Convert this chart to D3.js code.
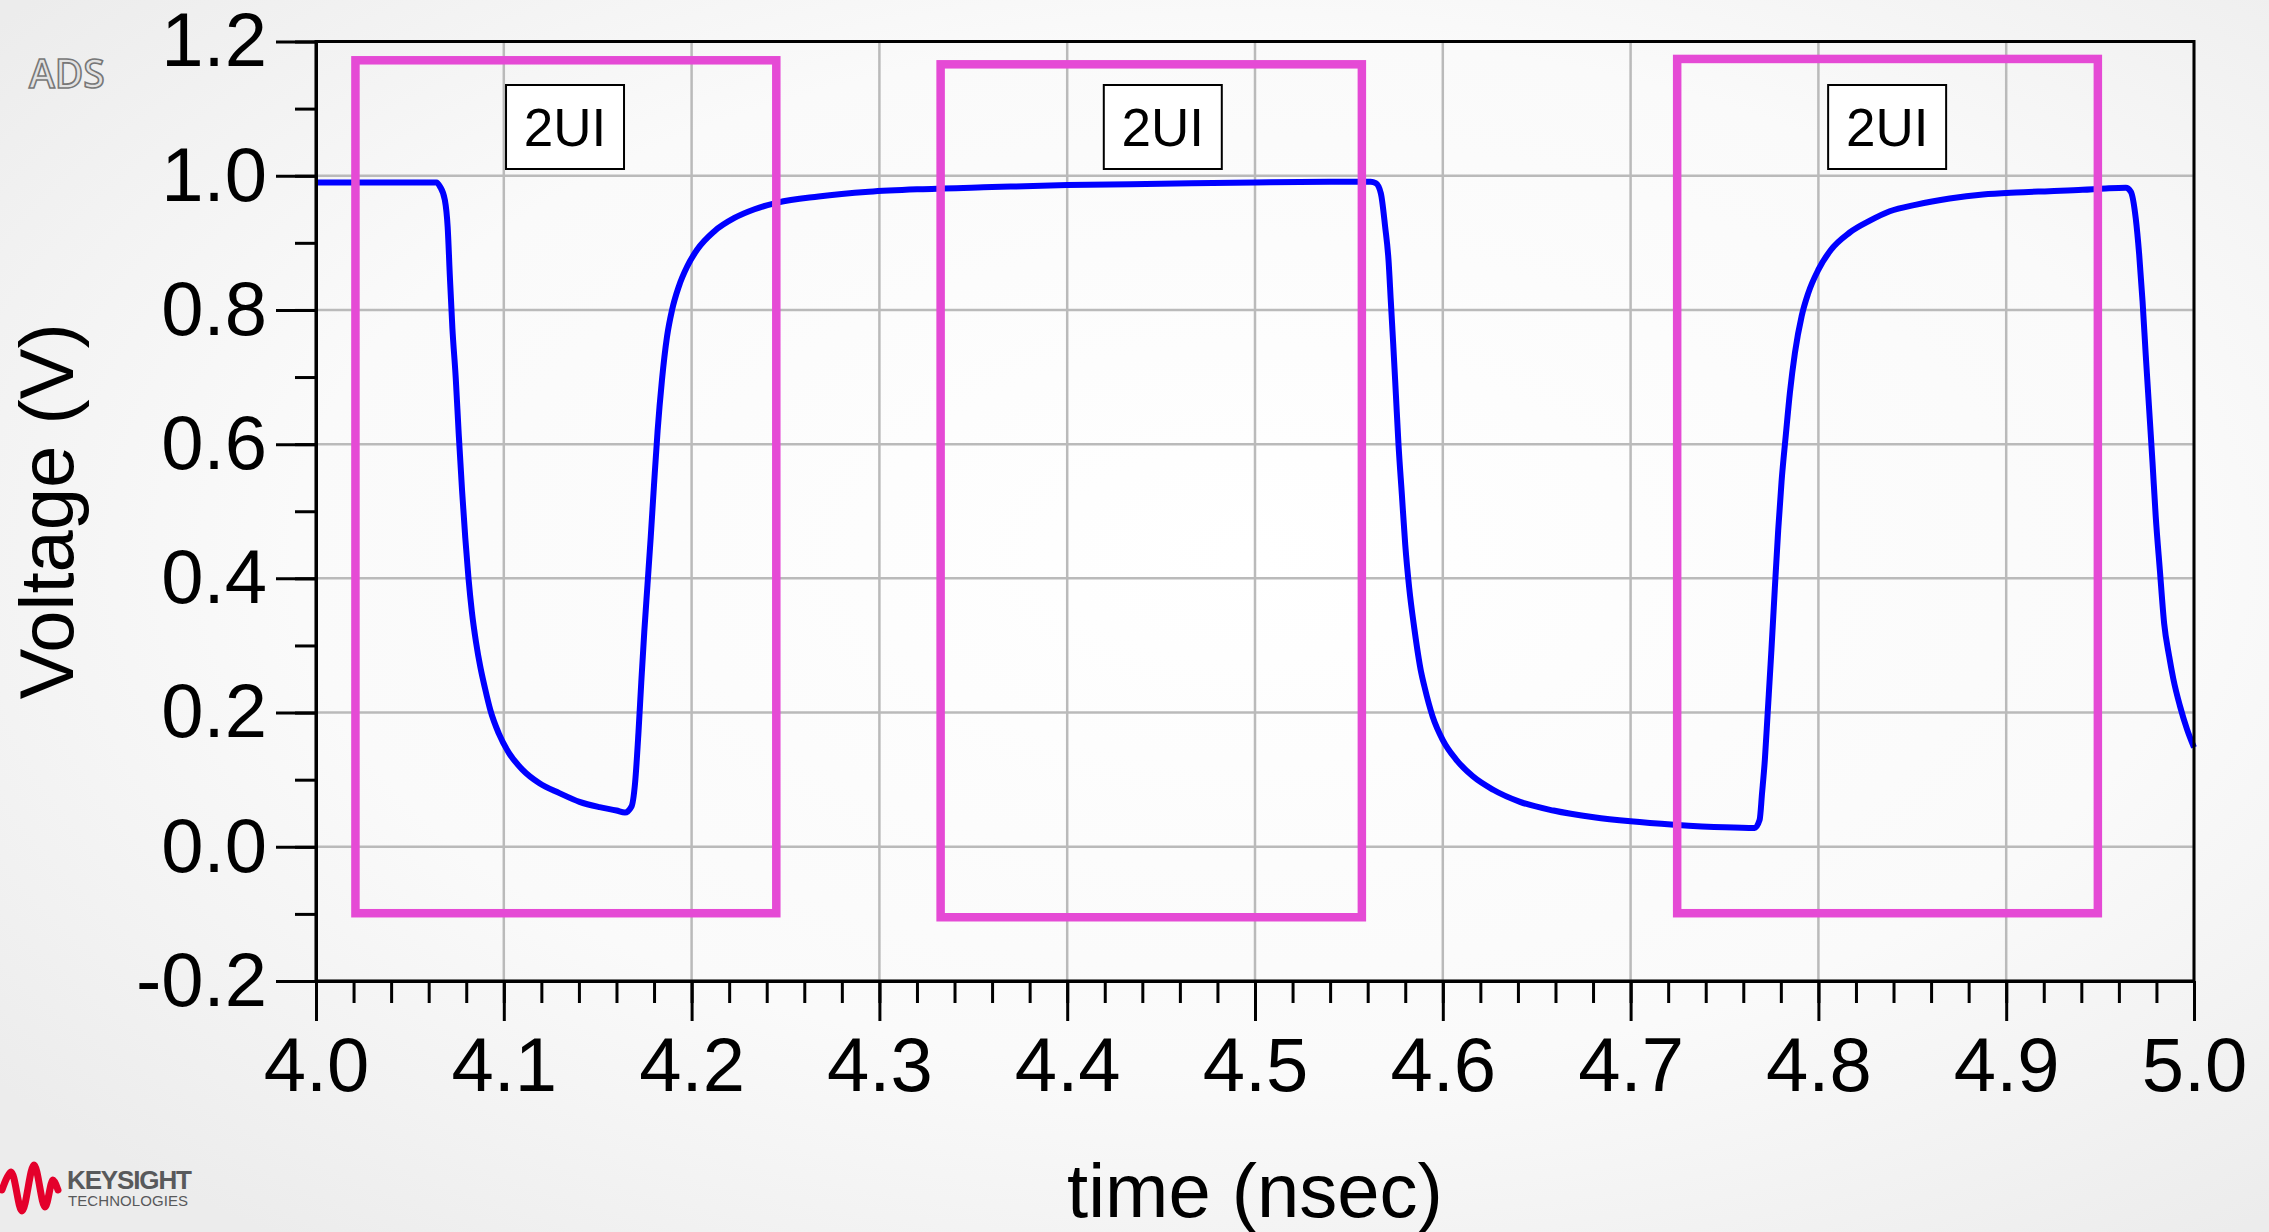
<!DOCTYPE html>
<html>
<head>
<meta charset="utf-8">
<script src="https://cdn.jsdelivr.net/npm/d3@7"></script>
<style>
  html, body { margin: 0; padding: 0; background: #f3f3f3; }
  svg { display: block; }
  .tick text { font-family: "Liberation Sans", Arial, sans-serif; fill: #000; }
</style>
</head>
<body>
<div id="chart"></div>
<script>
// waveform (time in nsec, voltage in V)
const timeNs = [
  4.000, 4.030, 4.0642, 4.066, 4.0686, 4.0701, 4.0713, 4.0726, 4.0744, 4.0760,
  4.0778, 4.0795, 4.0812, 4.0830, 4.0852, 4.0875, 4.0900, 4.0928, 4.0973, 4.1027,
  4.1099, 4.1188, 4.1296, 4.1403, 4.1510, 4.1600, 4.1645, 4.1680, 4.1699, 4.1717,
  4.1732, 4.1748, 4.1765, 4.1782, 4.1800, 4.1819, 4.1842, 4.1869, 4.1896, 4.1932,
  4.1977, 4.2030, 4.2120, 4.2228, 4.2335, 4.2457, 4.2676, 4.2944, 4.3231, 4.3600,
  4.4000, 4.4500, 4.5000, 4.5400, 4.5616, 4.5643, 4.5670, 4.5693, 4.5711, 4.5723,
  4.5736, 4.5750, 4.5764, 4.5782, 4.5800, 4.5821, 4.5848, 4.5884, 4.5902, 4.5946,
  4.6000, 4.6071, 4.6160, 4.6268, 4.6411, 4.6589, 4.6804, 4.7000, 4.7232, 4.7500,
  4.7660, 4.7687, 4.7700, 4.7715, 4.7730, 4.7750, 4.7768, 4.7786, 4.7804, 4.7827,
  4.7848, 4.7875, 4.7911, 4.7946, 4.8000, 4.8065, 4.8165, 4.8274, 4.8380, 4.8522,
  4.8699, 4.8876, 4.9053, 4.9230, 4.9407, 4.9530, 4.9637, 4.9664, 4.9690, 4.9708,
  4.9726, 4.9743, 4.9761, 4.9779, 4.9796, 4.9818, 4.9841, 4.9867, 4.9890, 4.9925,
  4.9963, 5.0000
];
const voltage = [
  0.990, 0.990, 0.990, 0.984, 0.964, 0.924, 0.849, 0.774, 0.699, 0.615,
  0.530, 0.460, 0.400, 0.350, 0.305, 0.268, 0.236, 0.204, 0.169, 0.140,
  0.115, 0.095, 0.080, 0.067, 0.059, 0.054, 0.051, 0.060, 0.095, 0.170,
  0.245, 0.320, 0.390, 0.460, 0.540, 0.620, 0.695, 0.760, 0.800, 0.835,
  0.865, 0.890, 0.917, 0.937, 0.950, 0.960, 0.969, 0.976, 0.980, 0.983,
  0.986, 0.988, 0.990, 0.991, 0.991, 0.989, 0.974, 0.924, 0.874, 0.814,
  0.749, 0.675, 0.600, 0.525, 0.450, 0.386, 0.326, 0.261, 0.239, 0.194,
  0.159, 0.130, 0.105, 0.085, 0.067, 0.054, 0.044, 0.038, 0.033, 0.029,
  0.028, 0.040, 0.080, 0.130, 0.200, 0.294, 0.385, 0.472, 0.545, 0.615,
  0.676, 0.736, 0.791, 0.825, 0.860, 0.889, 0.915, 0.933, 0.947, 0.957,
  0.966, 0.972, 0.975, 0.977, 0.979, 0.981, 0.982, 0.976, 0.936, 0.883,
  0.813, 0.733, 0.653, 0.573, 0.493, 0.413, 0.333, 0.285, 0.250, 0.210,
  0.175, 0.148
];

const xTicks = [4.0, 4.1, 4.2, 4.3, 4.4, 4.5, 4.6, 4.7, 4.8, 4.9, 5.0];
const yTicks = [-0.2, 0.0, 0.2, 0.4, 0.6, 0.8, 1.0, 1.2];
const xMinorTicks = d3.range(0, 51).map((i) => 4 + i * 0.02);
const yMinorTicks = d3.range(0, 15).map((i) => -0.2 + i * 0.1);

// the three "2UI" windows drawn over the trace (data units)
const windowStart = [4.021, 4.3326, 4.7248];
const windowEnd = [4.2451, 4.5569, 4.9488];
const windowTop = [1.172, 1.166, 1.174];
const windowBottom = [-0.099, -0.105, -0.099];
const windowLabel = ['2UI', '2UI', '2UI'];
const labelCenter = [4.1326, 4.4509, 4.8366];

const width = 2269;
const height = 1232;
const font = '"Liberation Sans", Arial, sans-serif';

const svg = d3
  .select('#chart')
  .append('svg')
  .attr('width', width)
  .attr('height', height);

// slide background
const defs = svg.append('defs');
const grad = defs.append('radialGradient').attr('id', 'bg').attr('cx', '55%').attr('cy', '45%').attr('r', '70%');
grad.append('stop').attr('offset', '0%').attr('stop-color', '#ffffff');
grad.append('stop').attr('offset', '60%').attr('stop-color', '#fafafa');
grad.append('stop').attr('offset', '100%').attr('stop-color', '#ececec');
svg.append('rect').attr('width', width).attr('height', height).attr('fill', 'url(#bg)');

const usableArea = { left: 316, right: 2194, top: 41.5, bottom: 981 };

const xScale = d3.scaleLinear().domain([4.0, 5.0]).range([usableArea.left, usableArea.right]);
const yScale = d3.scaleLinear().domain([-0.2, 1.2]).range([usableArea.bottom, usableArea.top]);

// gridlines
const grid = svg.append('g').attr('class', 'gridlines').attr('stroke', '#bababa').attr('stroke-width', 2.5);
grid.selectAll('line.v')
  .data(xTicks)
  .join('line')
  .attr('class', 'v')
  .attr('x1', (d) => xScale(d))
  .attr('x2', (d) => xScale(d))
  .attr('y1', usableArea.top)
  .attr('y2', usableArea.bottom);
grid.selectAll('line.h')
  .data(yTicks)
  .join('line')
  .attr('class', 'h')
  .attr('x1', usableArea.left)
  .attr('x2', usableArea.right)
  .attr('y1', (d) => yScale(d))
  .attr('y2', (d) => yScale(d));

// the trace
const points = timeNs.map((t, i) => ({ t, v: voltage[i] }));
const line = d3
  .line()
  .x((d) => xScale(d.t))
  .y((d) => yScale(d.v))
  .curve(d3.curveMonotoneX);

svg.append('path')
  .datum(points)
  .attr('d', line)
  .attr('fill', 'none')
  .attr('stroke', '#0000ff')
  .attr('stroke-width', 6)
  .attr('stroke-linejoin', 'round');

// frame
svg.append('rect')
  .attr('x', usableArea.left)
  .attr('y', usableArea.top)
  .attr('width', usableArea.right - usableArea.left)
  .attr('height', usableArea.bottom - usableArea.top)
  .attr('fill', 'none')
  .attr('stroke', '#000')
  .attr('stroke-width', 3);

// axes
const styleAxis = (g) => {
  g.select('.domain').attr('stroke', '#000').attr('stroke-width', 3);
  g.selectAll('.tick line').attr('stroke', '#000').attr('stroke-width', 3);
  g.selectAll('.tick text').style('font-size', '76px').style('font-family', font);
};

svg.append('g')
  .attr('transform', `translate(0, ${usableArea.bottom})`)
  .call(d3.axisBottom(xScale).tickValues(xMinorTicks).tickSize(22).tickSizeOuter(0).tickFormat(''))
  .call(styleAxis);
svg.append('g')
  .attr('transform', `translate(0, ${usableArea.bottom})`)
  .call(d3.axisBottom(xScale).tickValues(xTicks).tickSize(40).tickSizeOuter(0).tickPadding(16).tickFormat((d) => d.toFixed(1)))
  .call(styleAxis);

svg.append('g')
  .attr('transform', `translate(${usableArea.left}, 0)`)
  .call(d3.axisLeft(yScale).tickValues(yMinorTicks).tickSize(21).tickSizeOuter(0).tickFormat(''))
  .call(styleAxis);
svg.append('g')
  .attr('transform', `translate(${usableArea.left}, 0)`)
  .call(d3.axisLeft(yScale).tickValues(yTicks).tickSize(40).tickSizeOuter(0).tickPadding(9).tickFormat((d) => d.toFixed(1)))
  .call(styleAxis);

// axis titles
svg.append('text')
  .attr('transform', `translate(73, ${(usableArea.top + usableArea.bottom) / 2}) rotate(-90)`)
  .attr('text-anchor', 'middle')
  .style('font-family', font)
  .style('font-size', '76px')
  .text('Voltage (V)');

svg.append('text')
  .attr('x', (usableArea.left + usableArea.right) / 2)
  .attr('y', 1217)
  .attr('text-anchor', 'middle')
  .style('font-family', font)
  .style('font-size', '76px')
  .text('time (nsec)');

// 2UI windows
const windows = windowStart.map((s, i) => ({
  x0: s, x1: windowEnd[i], y0: windowBottom[i], y1: windowTop[i], label: windowLabel[i], cx: labelCenter[i],
}));

svg.append('g')
  .selectAll('rect')
  .data(windows)
  .join('rect')
  .attr('x', (d) => xScale(d.x0))
  .attr('y', (d) => yScale(d.y1))
  .attr('width', (d) => xScale(d.x1) - xScale(d.x0))
  .attr('height', (d) => yScale(d.y0) - yScale(d.y1))
  .attr('fill', 'none')
  .attr('stroke', '#e54ad5')
  .attr('stroke-width', 8.5);

const labels = svg.append('g').selectAll('g').data(windows).join('g')
  .attr('transform', (d) => `translate(${xScale(d.cx)}, 127)`);
labels.append('rect')
  .attr('x', -59)
  .attr('y', -42)
  .attr('width', 118)
  .attr('height', 84)
  .attr('fill', '#fff')
  .attr('stroke', '#000')
  .attr('stroke-width', 2);
labels.append('text')
  .attr('text-anchor', 'middle')
  .attr('y', 19)
  .style('font-family', font)
  .style('font-size', '53px')
  .text((d) => d.label);

// ADS watermark
svg.append('text')
  .attr('x', 29)
  .attr('y', 88)
  .style('font-family', '"Open Sans", sans-serif')
  .style('font-weight', 600)
  .style('font-size', '39px')
  .attr('fill', '#e2e2e2')
  .attr('stroke', '#777')
  .attr('stroke-width', 1.6)
  .text('ADS');

// Keysight logo
const logoWave = [[2, 1190], [11, 1172], [22, 1211], [34, 1165], [45, 1207], [53, 1180], [58, 1190]];
svg.append('path')
  .attr('d', d3.line().curve(d3.curveCatmullRom)(logoWave))
  .attr('fill', 'none')
  .attr('stroke', '#e4002b')
  .attr('stroke-width', 7)
  .attr('stroke-linecap', 'round')
  .attr('stroke-linejoin', 'round');
svg.append('text')
  .attr('x', 67)
  .attr('y', 1189)
  .attr('textLength', 125)
  .style('font-family', font)
  .style('font-weight', 700)
  .style('font-size', '26px')
  .attr('fill', '#58595b')
  .text('KEYSIGHT');
svg.append('text')
  .attr('x', 68)
  .attr('y', 1206)
  .attr('textLength', 120)
  .style('font-family', font)
  .style('font-size', '15px')
  .attr('fill', '#58595b')
  .text('TECHNOLOGIES');
</script>
</body>
</html>
